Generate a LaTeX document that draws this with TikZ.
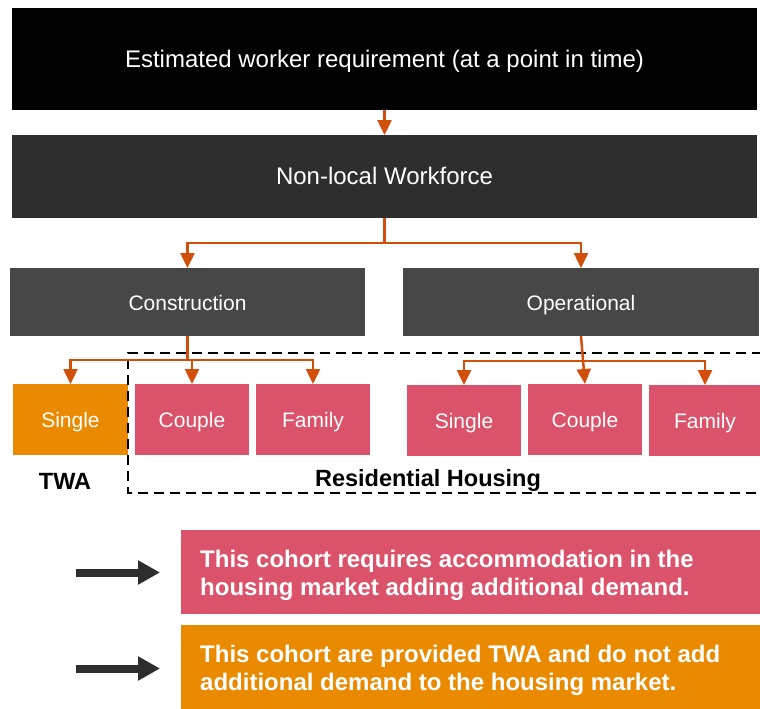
\documentclass[tikz,border=0pt]{standalone}
\usepackage{fontspec}
\setmainfont{Liberation Sans}
\usetikzlibrary{arrows.meta}
\definecolor{conn}{HTML}{D24E0B}
\definecolor{pinkbox}{HTML}{DA536B}
\definecolor{orangebox}{HTML}{E98A00}
\definecolor{darkone}{HTML}{2E2E2E}
\definecolor{darktwo}{HTML}{474747}
\definecolor{arrowgray}{HTML}{2D2D2D}
\tikzset{
  box/.style={inner sep=0pt, outer sep=0pt, text=white, align=center},
  bigtext/.style={font=\fontsize{24}{28}\selectfont, text height=19pt, text depth=3pt},
  midtext/.style={font=\fontsize{21}{25}\selectfont, text height=19pt, text depth=2.5pt},
  flow/.style={draw=conn, line width=2.5pt, -{Triangle[width=14pt,length=15pt]}},
  flowline/.style={draw=conn, line width=2.5pt},
  lbl/.style={inner sep=0pt, font=\fontsize{23.5}{28}\selectfont\bfseries},
  legendtext/.style={inner sep=0pt, text=white, align=left, anchor=west,
    font=\fontsize{24}{28}\selectfont\bfseries},
  legendarrow/.style={draw=arrowgray, line width=8pt, -{Triangle[width=23pt,length=22pt]}},
  housing/.style={draw=black, line width=2.5pt, dash pattern=on 10pt off 6pt}
}
\begin{document}
\begin{tikzpicture}[x=1pt,y=-1pt]
\useasboundingbox (0,0) rectangle (760,709);
% top boxes
\node[box, bigtext, fill=black, minimum width=745pt, minimum height=102pt] (top) at (384.5,59) {Estimated worker requirement (at a point in time)};
\node[box, bigtext, fill=darkone, minimum width=745pt, minimum height=83pt] (nl) at (384.5,176.5) {Non-local Workforce};
\node[box, midtext, fill=darktwo, minimum width=355pt, minimum height=68pt] (con) at (187.5,302) {Construction};
\node[box, midtext, fill=darktwo, minimum width=356pt, minimum height=68pt] (op) at (581,302) {Operational};
% bottom row
\node[box, midtext, fill=orangebox, minimum width=115pt, minimum height=71pt] (s1) at (70.5,419.5) {Single};
\node[box, midtext, fill=pinkbox, minimum width=114pt, minimum height=71pt] (c1) at (192,419.5) {Couple};
\node[box, midtext, fill=pinkbox, minimum width=114pt, minimum height=71pt] (f1) at (313,419.5) {Family};
\node[box, midtext, fill=pinkbox, minimum width=114pt, minimum height=71pt] (s2) at (464,420.5) {Single};
\node[box, midtext, fill=pinkbox, minimum width=114pt, minimum height=71pt] (c2) at (585,419.5) {Couple};
\node[box, midtext, fill=pinkbox, minimum width=112pt, minimum height=71pt] (f2) at (705,420.5) {Family};
% dashed housing region
\draw[housing] (762,353) -- (128,353) -- (128,493) -- (762,493);
\node[lbl] (twa) at (65,481) {TWA};
\node[lbl] (res) at (428,480) {Residential Housing};
% connectors
\draw[flow] (top.south) -- (nl.north);
\coordinate (j1) at (384.5,243);
\draw[flowline] (nl.south) -- (j1);
\draw[flow] (j1) -| (con.north);
\draw[flow] (j1) -| (op.north);
\coordinate (j2) at (187.5,360);
\draw[flowline] (con.south) -- (j2);
\draw[flow] (j2) -| (s1.north);
\draw[flow] (j2) -| (c1.north);
\draw[flow] (j2) -| (f1.north);
\coordinate (j3) at (583,361);
\draw[flow] (op.south) -- (c2.north);
\draw[flow] (j3) -| (s2.north);
\draw[flow] (j3) -| (f2.north);
% legend
\node[box, fill=pinkbox, minimum width=579pt, minimum height=84pt, anchor=north west] (lp) at (181,530) {};
\node[box, fill=orangebox, minimum width=579pt, minimum height=84pt, anchor=north west] (lo) at (181,625) {};
\node[legendtext] (lpt) at (200,575) {This cohort requires accommodation in the\\housing market adding additional demand.};
\node[legendtext] (lot) at (200,670) {This cohort are provided TWA and do not add\\additional demand to the housing market.};
\coordinate (a1s) at (76,572.5);
\coordinate (a1e) at (160,572.5);
\coordinate (a2s) at (76,668.5);
\coordinate (a2e) at (160,668.5);
\draw[legendarrow] (a1s) -- (a1e);
\draw[legendarrow] (a2s) -- (a2e);
\end{tikzpicture}
\end{document}
